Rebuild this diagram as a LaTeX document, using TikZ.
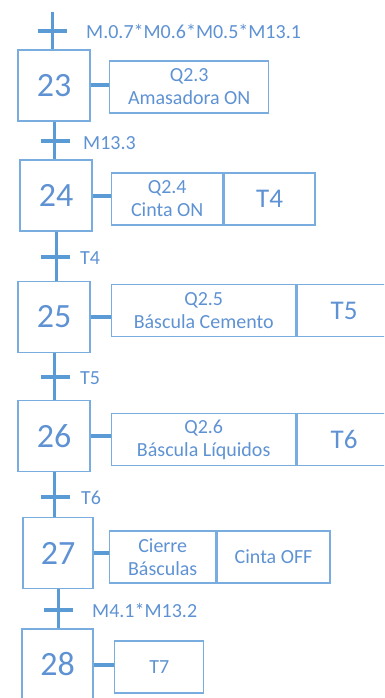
\documentclass[tikz,border=0pt]{standalone}
\usepackage{fontspec}
\setmainfont{Carlito}
\definecolor{grafline}{HTML}{5B9BD5}
\definecolor{grafbox}{HTML}{7AADDF}
\definecolor{graftext}{HTML}{5E92D3}
\begin{document}
\begin{tikzpicture}[x=1pt,y=-1pt,
  stepbox/.style={draw=grafbox,line width=1.4pt,rectangle,inner sep=0pt,
    minimum width=72pt,minimum height=71pt,text=graftext,
    font=\fontsize{34}{38}\selectfont},
  actbox/.style={draw=grafbox,line width=1.4pt,rectangle,inner sep=0pt,
    minimum height=52pt,text=graftext,align=center,
    font=\fontsize{20}{23}\selectfont},
  timebox/.style={actbox,font=\fontsize{27}{30}\selectfont},
  link/.style={draw=grafline,line width=3pt},
  actlink/.style={draw=grafline,line width=4pt},
  bar/.style={draw=grafline,line width=4pt},
  trlabel/.style={anchor=west,inner sep=0pt,text=graftext,
    font=\fontsize{20}{23}\selectfont}]
\useasboundingbox (0,0) rectangle (384,698);
\clip (0,0) rectangle (384,698);

% steps
\node[stepbox] (s23) at (54,85.5) {23};
\node[stepbox] (s24) at (56,195.5) {24};
\node[stepbox] (s25) at (54,317) {25};
\node[stepbox] (s26) at (54,436) {26};
\node[stepbox,minimum width=70pt] (s27) at (58,553) {27};
\node[stepbox,minimum width=71pt] (s28) at (57.5,664.5) {28};

% actions
\node[actbox,minimum width=159pt,anchor=west] (a23) at (109,87) {Q2.3\\Amasadora ON};
\node[actbox,minimum width=111pt,anchor=west] (a24) at (111,199) {Q2.4\\Cinta ON};
\node[timebox,minimum width=91pt,anchor=west] (b24) at (a24.east) {T4};
\node[actbox,minimum width=184pt,anchor=west] (a25) at (111,310.5) {Q2.5\\Báscula Cemento};
\node[timebox,minimum width=94pt,anchor=west] (b25) at (a25.east) {T5};
\node[actbox,minimum width=184pt,anchor=west] (a26) at (111,439.5) {Q2.6\\Báscula Líquidos};
\node[timebox,minimum width=94pt,anchor=west] (b26) at (a26.east) {T6};
\node[actbox,minimum width=106pt,anchor=west] (a27) at (109,557) {Cierre\\Básculas};
\node[actbox,minimum width=113pt,anchor=west] (b27) at (a27.east) {Cinta OFF};
\node[actbox,minimum width=89pt,anchor=west] (a28) at (114,667) {T7};

\draw[actlink] (s23.east) -- (a23.west |- s23.east);
\draw[actlink] (s24.east) -- (a24.west |- s24.east);
\draw[actlink] (s25.east) -- (a25.west |- s25.east);
\draw[actlink] (s26.east) -- (a26.west |- s26.east);
\draw[actlink] (s27.east) -- (a27.west |- s27.east);
\draw[actlink] (s28.east) -- (a28.west |- s28.east);

% links between steps
\coordinate (top) at (52,12);
\draw[link] (top) -- (top |- s23.north);
\draw[link] (s23.south) -- (s23.south |- s24.north);
\draw[link] (s24.south) -- (s24.south |- s25.north);
\draw[link] (s25.south) -- (s25.south |- s26.north);
\draw[link] (s26.south) -- (s26.south |- s27.north);
\draw[link] (s27.south) -- (s27.south |- s28.north);

% transitions
\coordinate (t0) at (52,31);
\coordinate (t1) at (55,141);
\coordinate (t2) at (55,257);
\coordinate (t3) at (55,377);
\coordinate (t4) at (55,497);
\coordinate (t5) at (58,610);
\foreach \t in {t0,t1,t2,t3,t4,t5}
  \draw[bar] ([xshift=-14.5pt]\t) -- ([xshift=14.5pt]\t);

\node[trlabel] (l0) at (86,31) {M.0.7*M0.6*M0.5*M13.1};
\node[trlabel] (l1) at (83,143) {M13.3};
\node[trlabel] (l2) at (80,258) {T4};
\node[trlabel] (l3) at (80,378) {T5};
\node[trlabel] (l4) at (81,498) {T6};
\node[trlabel] (l5) at (92,610) {M4.1*M13.2};
\end{tikzpicture}
\end{document}
